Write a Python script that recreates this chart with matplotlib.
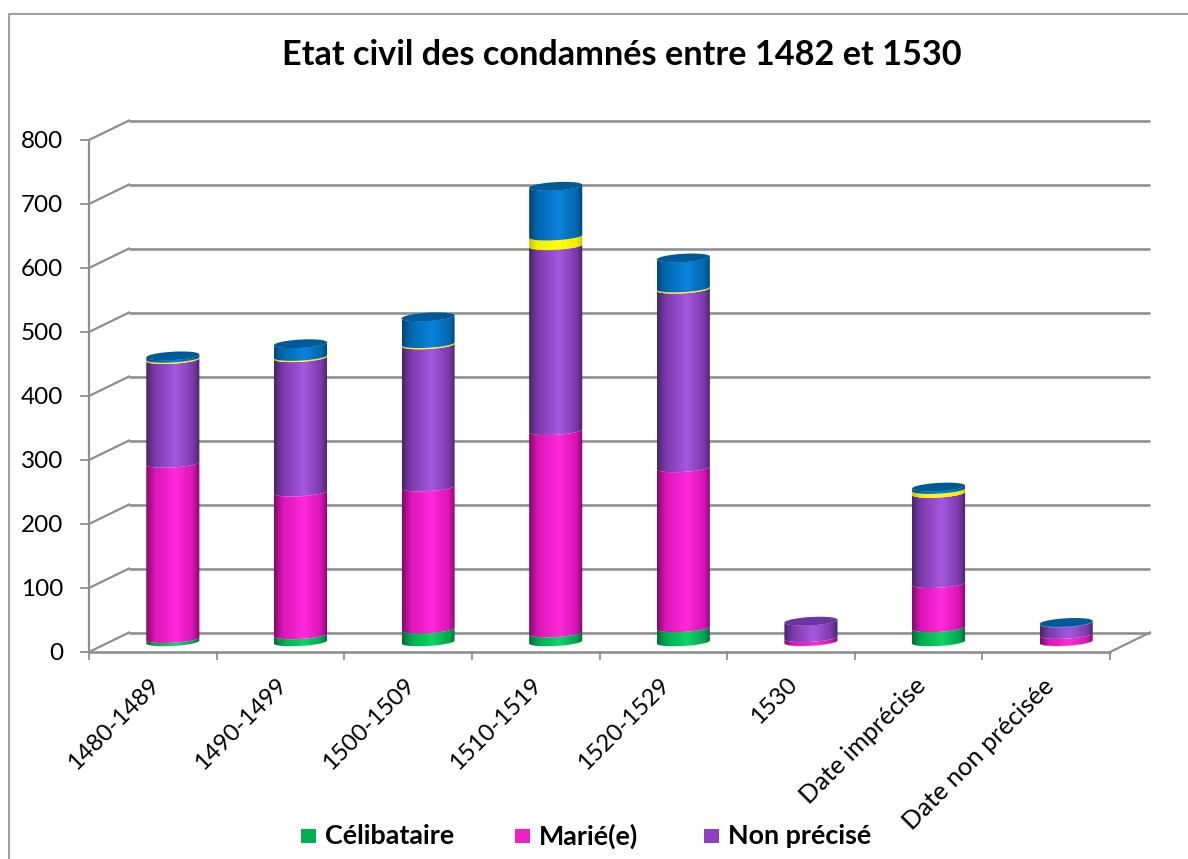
import numpy as np
import matplotlib
matplotlib.use("Agg")
import matplotlib.pyplot as plt
from matplotlib.colors import LinearSegmentedColormap
from matplotlib.lines import Line2D
from matplotlib.patches import Polygon, Rectangle

periodes = ["1480-1489", "1490-1499", "1500-1509", "1510-1519", "1520-1529",
            "1530", "Date imprécise", "Date non précisée"]
celibataire = [5, 11, 20, 14, 22, 0.5, 22, 0.5]
marie = [274, 223, 222, 316, 250, 6, 69, 11]
non_precise = [162, 210, 222, 289, 279, 26, 141, 18]
serie_jaune = [2, 2, 2, 15, 2, 0, 6, 0]
serie_bleue = [4, 20, 42, 78, 47, 0, 4, 1]

series = [celibataire, marie, non_precise, serie_jaune, serie_bleue]
# edge, mid, highlight and top-cap colours of each series
couleurs = [("#006e36", "#00a850", "#10d565", "#00a04a"),
            ("#800a6c", "#d815b4", "#ff2adb", "#b010a0"),
            ("#47266c", "#7a3aaa", "#a658e0", "#6a35a0"),
            ("#c8c800", "#f0f000", "#ffff00", "#e0e000"),
            ("#00477a", "#0068ae", "#0c82dc", "#005a96")]

grey = "#8f8f8f"
px_x = 127.6        # one category
px_y = 0.64         # one unit of value
depth_x = 40 / px_x
depth_y = 19.5 / px_y


def cylinder(ax, xc, low, high, colours, top=False):
    edge, mid, light, cap = colours
    a = 0.208
    b = 4 / px_y
    tilt = 1.5 / px_y
    t = np.linspace(0, np.pi, 60)
    xs = xc + a * np.cos(t)
    sag = b * np.sin(t)
    rise = tilt * np.cos(t)
    front_low = low - sag + rise
    front_high = high - sag + rise
    pts = np.r_[np.c_[xs, front_high], np.c_[xs[::-1], front_low[::-1]]]
    poly = Polygon(pts, closed=True, fc="none", ec="none", transform=ax.transData)
    ax.add_patch(poly)
    cmap = LinearSegmentedColormap.from_list(
        "c", [(0, edge), (0.15, mid), (0.55, light), (0.88, mid), (1, edge)])
    grad = cmap(np.linspace(0, 1, 80))[None, :, :]
    img = ax.imshow(grad, extent=(xc - a, xc + a, low - b - tilt, high + b + tilt),
                    aspect="auto", origin="lower", zorder=3, interpolation="bilinear")
    img.set_clip_path(poly)
    if top:
        t = np.linspace(0, 2 * np.pi, 120)
        cap_pts = np.c_[xc + a * np.cos(t),
                        high + b * 1.05 * np.sin(t) + tilt * np.cos(t)]
        ax.add_patch(Polygon(cap_pts, closed=True, fc=cap, ec="none", zorder=4))


def main():
    plt.rcParams["font.family"] = ["Lato", "DejaVu Sans"]
    fig = plt.figure(figsize=(11.88, 8.59), dpi=100)
    ax = fig.add_axes([89 / 1188, 1 - 652 / 859, 1021 / 1188, 512 / 859])
    ax.set_xlim(0, len(periodes))
    ax.set_ylim(0, 800)
    ax.axis("off")

    # outer frame, only left and top are in the picture
    fig.add_artist(Line2D([9 / 1188, 9 / 1188, 1], [0, 1 - 14 / 859, 1 - 14 / 859],
                          color="#a0a0a0", lw=1.5, transform=fig.transFigure))

    # back wall gridlines and their slanted side-wall ends
    n = len(periodes)
    for v in range(0, 801, 100):
        ax.plot([depth_x, n + depth_x], [v + depth_y] * 2, color=grey, lw=1.9,
                clip_on=False, zorder=1, solid_capstyle="butt")
        ax.plot([0, depth_x], [v, v + depth_y], color=grey, lw=1.6, clip_on=False, zorder=1)
        ax.plot([-8 / px_x, 0], [v, v], color=grey, lw=1.3, clip_on=False, zorder=1)
        ax.text(-26 / px_x, v - 1 / px_y, str(v), ha="right", va="center", fontsize=17.5,
                color="black")

    # front axes and floor
    ax.plot([0, 0], [0, 800], color=grey, lw=1.6, clip_on=False, zorder=2)
    ax.plot([0, n], [0, 0], color=grey, lw=1.9, clip_on=False, zorder=2)
    ax.plot([n, n + depth_x], [0, depth_y], color=grey, lw=1.6, clip_on=False, zorder=2)
    for i in range(n + 1):
        ax.plot([i, i], [0, -7 / px_y], color=grey, lw=1.3, clip_on=False, zorder=2)

    # stacked cylinders stand halfway along the depth
    base = 10 / px_y
    for i, label in enumerate(periodes):
        xc = i + 0.5 + depth_x / 2
        bottom = base
        last = max(k for k, s in enumerate(series) if s[i] > 0)
        for k, s in enumerate(series):
            if s[i] <= 0:
                continue
            cylinder(ax, xc, bottom, bottom + s[i], couleurs[k], top=(k == last))
            bottom += s[i]
        size = 18.3 if label.startswith("Date") else 17.2
        ax.text(i + 0.465, -22 / px_y, label, rotation=45, ha="right", va="top",
                rotation_mode="anchor", fontsize=size, color="black")
    ax.set_xlim(0, n)
    ax.set_ylim(0, 800)

    fig.text(622 / 1188, 1 - 55 / 859, "Etat civil des condamnés entre 1482 et 1530",
             ha="center", va="center", fontsize=24.7, fontweight="bold")

    # legend only names three of the series
    couleurs_legende = ["#00b050", "#f020c8", "#8e40c0"]
    names = ["Célibataire", "Marié(e)", "Non précisé"]
    xs = [301, 515, 704]
    for c, name, x in zip(couleurs_legende, names, xs):
        fig.add_artist(Rectangle((x / 1188, 1 - 843 / 859), 15 / 1188, 14 / 859,
                                 fc=c, ec="none", transform=fig.transFigure))
        fig.text((x + 24) / 1188, 1 - 836 / 859, name, ha="left", va="center",
                 fontsize=19.4, fontweight="bold")

    fig.savefig("out.png", dpi=100)


if __name__ == "__main__":
    main()
